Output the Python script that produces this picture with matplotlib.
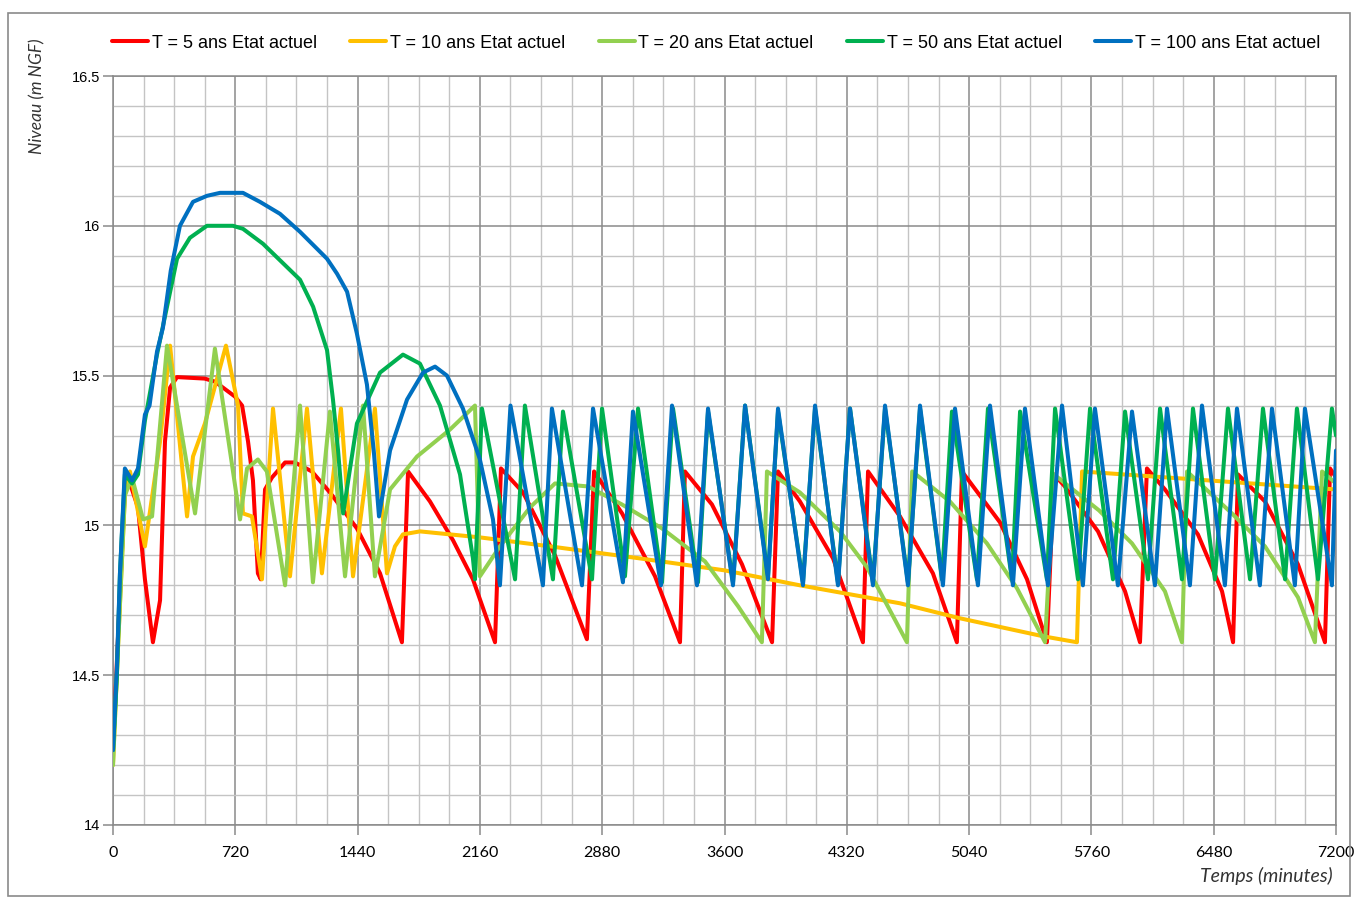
import matplotlib
matplotlib.use("Agg")
import matplotlib.pyplot as plt
from matplotlib.patches import Rectangle
import numpy as np

# niveaux : (temps en minutes, niveau en m NGF)
t5 = [(0, 14.25), (35, 14.7), (70, 15.12), (100, 15.14), (147, 15.06), (188, 14.82), (235, 14.61),
      (277, 14.75), (306, 15.28), (336, 15.46), (377, 15.495), (540, 15.49), (600, 15.48), (718, 15.43),
      (760, 15.40), (795, 15.28), (824, 15.15), (853, 14.84), (870, 14.82), (895, 15.12), (936, 15.16),
      (1013, 15.21), (1071, 15.21), (1171, 15.18), (1277, 15.11), (1436, 14.99), (1572, 14.84),
      (1701, 14.61), (1737, 15.18), (1866, 15.08), (2002, 14.95), (2119, 14.82), (2249, 14.61),
      (2284, 15.19), (2414, 15.11), (2602, 14.90), (2790, 14.62), (2832, 15.18), (2997, 15.04),
      (3191, 14.83), (3338, 14.61), (3367, 15.18), (3526, 15.07), (3703, 14.87), (3880, 14.61),
      (3915, 15.18), (4044, 15.08), (4239, 14.89), (4415, 14.61), (4445, 15.18), (4633, 15.03),
      (4827, 14.84), (4968, 14.61), (4998, 15.18), (5222, 15.01), (5381, 14.82), (5498, 14.61),
      (5540, 15.17), (5604, 15.13), (5799, 14.98), (5958, 14.78), (6046, 14.61), (6087, 15.19),
      (6193, 15.12), (6387, 14.97), (6529, 14.78), (6594, 14.61), (6623, 15.17), (6782, 15.08),
      (6976, 14.87), (7135, 14.61), (7165, 15.19), (7200, 15.16)]

t10 = [(0, 14.2), (30, 14.6), (70, 15.1), (100, 15.18), (188, 14.93), (277, 15.28), (336, 15.60),
       (436, 15.03), (471, 15.23), (541, 15.34), (665, 15.60), (736, 15.40), (765, 15.04), (818, 15.03),
       (877, 14.82), (942, 15.39), (1042, 14.83), (1142, 15.39), (1230, 14.84), (1342, 15.39),
       (1413, 14.83), (1542, 15.39), (1613, 14.84), (1660, 14.93), (1707, 14.97), (1807, 14.98),
       (1984, 14.97), (2160, 14.96), (2573, 14.93), (3100, 14.89), (3600, 14.85), (4044, 14.80),
       (4633, 14.74), (4986, 14.69), (5475, 14.63), (5675, 14.61), (5705, 15.18), (6205, 15.16),
       (7200, 15.12)]

t20 = [(0, 14.2), (30, 14.6), (70, 15.1), (112, 15.16), (177, 15.02), (230, 15.03), (318, 15.60),
       (483, 15.04), (600, 15.59), (748, 15.02), (789, 15.19), (853, 15.22), (906, 15.18), (1013, 14.80),
       (1101, 15.40), (1177, 14.81), (1277, 15.38), (1366, 14.83), (1472, 15.40), (1542, 14.83),
       (1631, 15.12), (1790, 15.23), (1984, 15.32), (2131, 15.40), (2160, 14.83), (2278, 14.93),
       (2455, 15.06), (2602, 15.14), (2796, 15.13), (2996, 15.07), (3232, 14.99), (3485, 14.88),
       (3680, 14.73), (3820, 14.61), (3850, 15.18), (4044, 15.11), (4280, 14.98), (4439, 14.86),
       (4674, 14.61), (4705, 15.18), (4927, 15.08), (5145, 14.94), (5322, 14.79), (5487, 14.61),
       (5540, 15.17), (5805, 15.05), (5999, 14.94), (6193, 14.78), (6293, 14.61), (6323, 15.18),
       (6587, 15.04), (6782, 14.93), (6976, 14.76), (7076, 14.61), (7118, 15.18), (7200, 15.14)]

t50 = [(0, 14.25), (23, 14.5), (41, 14.84), (70, 15.17), (112, 15.14), (147, 15.17), (188, 15.35),
       (259, 15.57), (318, 15.73), (377, 15.89), (453, 15.96), (553, 16.0), (706, 16.0), (765, 15.99),
       (883, 15.94), (1101, 15.82), (1178, 15.73), (1260, 15.585), (1295, 15.42), (1325, 15.25),
       (1355, 15.04), (1436, 15.34), (1572, 15.51), (1707, 15.57), (1807, 15.54), (1925, 15.40),
       (2043, 15.17), (2119, 14.89), (2131, 14.82), (2172, 15.39), (2367, 14.82), (2425, 15.40),
       (2590, 14.82), (2649, 15.38), (2820, 14.82), (2879, 15.39), (3014, 14.83), (3091, 15.39),
       (3232, 14.81), (3297, 15.39), (3444, 14.81), (3503, 15.38), (3650, 14.81), (3721, 15.40),
       (3856, 14.83), (3915, 15.38), (4062, 14.81), (4133, 15.39), (4268, 14.81), (4339, 15.39),
       (4474, 14.81), (4545, 15.39), (4680, 14.81), (4751, 15.39), (4880, 14.82), (4939, 15.38),
       (5086, 14.82), (5151, 15.39), (5292, 14.82), (5340, 15.38), (5498, 14.82), (5546, 15.39),
       (5681, 14.82), (5752, 15.39), (5887, 14.82), (5958, 15.38), (6093, 14.82), (6164, 15.39),
       (6293, 14.82), (6358, 15.39), (6487, 14.82), (6564, 15.39), (6694, 14.82), (6770, 15.39),
       (6900, 14.82), (6970, 15.39), (7094, 14.82), (7176, 15.39), (7200, 15.30)]

t100 = [(0, 14.25), (23, 14.53), (41, 14.84), (70, 15.19), (112, 15.15), (147, 15.19), (188, 15.37),
        (215, 15.40), (259, 15.58), (294, 15.66), (340, 15.85), (394, 16.0), (471, 16.08), (553, 16.10),
        (630, 16.11), (765, 16.11), (865, 16.08), (983, 16.04), (1101, 15.98), (1260, 15.89),
        (1319, 15.84), (1378, 15.78), (1436, 15.64), (1495, 15.47), (1535, 15.25), (1566, 15.03),
        (1631, 15.25), (1731, 15.42), (1825, 15.51), (1896, 15.53), (1966, 15.50), (2060, 15.39),
        (2160, 15.22), (2237, 15.02), (2278, 14.80), (2340, 15.40), (2531, 14.80), (2584, 15.39),
        (2761, 14.80), (2826, 15.39), (3002, 14.81), (3061, 15.38), (3226, 14.80), (3291, 15.40),
        (3438, 14.80), (3503, 15.39), (3650, 14.80), (3721, 15.40), (3856, 14.82), (3915, 15.39),
        (4062, 14.80), (4133, 15.40), (4268, 14.80), (4339, 15.39), (4474, 14.80), (4545, 15.40),
        (4680, 14.80), (4751, 15.40), (4886, 14.80), (4957, 15.39), (5092, 14.80), (5163, 15.40),
        (5298, 14.80), (5369, 15.39), (5504, 14.80), (5587, 15.40), (5710, 14.80), (5781, 15.39),
        (5916, 14.80), (5999, 15.38), (6134, 14.80), (6205, 15.39), (6340, 14.80), (6411, 15.40),
        (6546, 14.80), (6617, 15.39), (6752, 14.80), (6823, 15.39), (6958, 14.80), (7017, 15.39),
        (7176, 14.80), (7200, 15.25)]

series = [t5, t10, t20, t50, t100]
labels = ["T = 5 ans Etat actuel", "T = 10 ans Etat actuel", "T = 20 ans Etat actuel",
          "T = 50 ans Etat actuel", "T = 100 ans Etat actuel"]
colors = ["#FF0000", "#FFC000", "#92D050", "#00B050", "#0070C0"]

xticks = np.arange(0, 7201, 720)
yticks = [14, 14.5, 15, 15.5, 16, 16.5]
ylabels = ["14", "14.5", "15", "15.5", "16", "16.5"]

W, H = 1358, 898
fig = plt.figure(figsize=(W / 100, H / 100), dpi=100)
ax = fig.add_axes([113 / W, 1 - 825 / H, (1336 - 113) / W, (825 - 76) / H])

handles = []
for s, lab, c in zip(series, labels, colors):
    t = [p[0] for p in s]
    y = [p[1] for p in s]
    h, = ax.plot(t, y, color=c, lw=2.9, label=lab, solid_joinstyle="round",
                 solid_capstyle="round", zorder=3)
    handles.append(h)

ax.set_xlim(0, 7200)
ax.set_ylim(14, 16.5)
ax.set_xticks(xticks)
ax.set_xticks(np.arange(0, 7201, 180), minor=True)
ax.set_yticks(yticks)
ax.set_yticklabels(ylabels)
ax.set_yticks(np.arange(14, 16.51, 0.1), minor=True)
ax.grid(which="major", color="#8a8a8a", lw=1.1, zorder=1)
ax.grid(which="minor", color="#c4c4c4", lw=1.0, zorder=0)
ax.set_axisbelow(True)
for sp in ax.spines.values():
    sp.set_color("#8a8a8a")
    sp.set_linewidth(1.1)
ax.tick_params(which="major", length=7, color="#8a8a8a", width=1.1)
ax.tick_params(which="minor", length=0)
ax.tick_params(axis="y", pad=2)
ax.tick_params(axis="x", pad=8)
for lb in ax.get_yticklabels():
    lb.set_family("Liberation Sans")
    lb.set_fontsize(10.5)
for lb in ax.get_xticklabels():
    lb.set_family("Lato")
    lb.set_fontsize(11.5)

fig.legend(handles=handles, labels=labels, loc="center left", bbox_to_anchor=(112 / W, 1 - 43 / H),
           bbox_transform=fig.transFigure, ncol=5, frameon=False, borderpad=0, borderaxespad=0,
           handlelength=2.0, handletextpad=0.2, columnspacing=1.85,
           prop={"family": "Liberation Sans", "size": 13})

fig.text(37 / W, 1 - 96 / H, "Niveau (m NGF)", rotation=90, ha="center", va="center",
         style="italic", family="Lato", fontsize=12.5, color="#333333")
fig.text(1333 / W, 1 - 876 / H, "Temps (minutes)", ha="right", va="center",
         style="italic", family="Lato", fontsize=14, color="#333333")

fig.patches.append(Rectangle((8 / W, 1 - 896 / H), (1350 - 8) / W, (896 - 13) / H,
                             transform=fig.transFigure, fill=False, edgecolor="#8a8a8a", lw=1.2))

fig.savefig("out.png", dpi=100)
